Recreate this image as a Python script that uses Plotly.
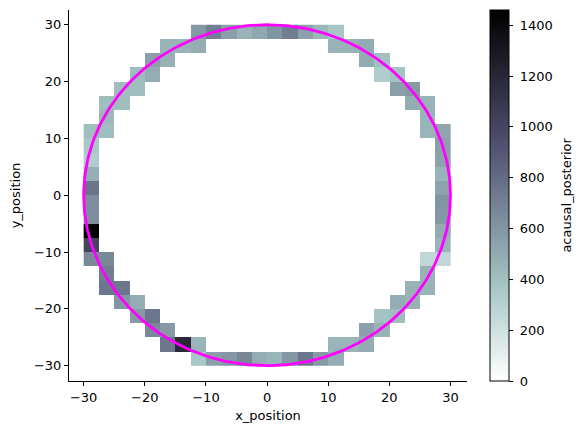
import numpy as np
import plotly.graph_objects as go

# 2D position bins (2.5 cm wide, -30 .. 30)
bin_edges = np.arange(-30, 30.1, 2.5)
bin_centers = (bin_edges[:-1] + bin_edges[1:]) / 2

# occupied bins on the ring: column index, row index, posterior value
ring_col = [7, 8, 9, 10, 11, 12, 13, 14, 15, 16,
            5, 6, 7, 16, 17, 18,
            4, 5, 18, 19,
            3, 4, 19, 20,
            2, 3, 20, 21,
            1, 2, 21, 22,
            1, 22,
            0, 1, 22, 23,
            0, 23, 0, 23, 0, 23, 0, 23, 0, 23, 0, 23, 0, 23, 0, 23,
            0, 1, 22, 23,
            1, 22,
            1, 2, 21, 22,
            2, 3, 20, 21,
            3, 4, 19, 20,
            4, 5, 18, 19,
            5, 6, 7, 16, 17, 18,
            7, 8, 9, 10, 11, 12, 13, 14, 15, 16]
ring_row = [23] * 10 + [22] * 6 + [21] * 4 + [20] * 4 + [19] * 4 + [18] * 4 + [17] * 2 + [16] * 4 + \
           [15, 15, 14, 14, 13, 13, 12, 12, 11, 11, 10, 10, 9, 9, 8, 8] + \
           [7] * 4 + [6] * 2 + [5] * 4 + [4] * 4 + [3] * 4 + [2] * 4 + [1] * 6 + [0] * 10
ring_value = [590, 710, 555, 455, 520, 610, 717, 550, 445, 365,
              455, 455, 490, 463, 460, 495,
              550, 470, 495, 400,
              417, 490, 330, 385,
              417, 410, 555, 580,
              410, 410, 490, 463,
              437, 450,
              410, 410, 450, 521,
              362, 555, 330, 541, 480, 455, 765, 541, 640, 606, 640, 593, 1460, 495, 1010, 450,
              660, 660, 263, 263,
              711, 463,
              750, 750, 463, 463,
              600, 489, 489, 463,
              580, 750, 384, 410,
              659, 580, 550, 463,
              750, 1200, 450, 450, 450, 495,
              362, 555, 593, 672, 489, 450, 593, 750, 580, 489]

cbar_ticks = [0, 200, 400, 600, 800, 1000, 1200, 1400]

# linear track (circle)
track_radius = 30
track_angle = np.linspace(0, 2 * np.pi, 361)

z = np.full((len(bin_centers), len(bin_centers)), np.nan)
for c, r, v in zip(ring_col, ring_row, ring_value):
    z[r, c] = v
z_list = [[None if np.isnan(v) else v for v in row] for row in z]

# matplotlib bone_r
bone_r = [
    [0.0, "rgb(255,255,255)"],
    [0.253968, "rgb(166,198,198)"],
    [0.634921, "rgb(81,81,113)"],
    [1.0, "rgb(0,0,0)"],
]

font = dict(family="DejaVu Sans", size=13, color="black")

fig = go.Figure()
fig.add_trace(go.Heatmap(
    x=bin_centers,
    y=bin_centers,
    z=z_list,
    zmin=0,
    zmax=1460,
    colorscale=bone_r,
    hoverongaps=False,
    colorbar=dict(
        thickness=19,
        len=1,
        lenmode="fraction",
        y=0.5,
        yanchor="middle",
        x=1.058,
        xanchor="left",
        xpad=0,
        ypad=0,
        outlinewidth=1,
        outlinecolor="black",
        tickvals=cbar_ticks,
        ticktext=[f" {t}" for t in cbar_ticks],
        ticks="outside",
        ticklen=4,
        tickcolor="black",
        tickfont=font,
    ),
))
fig.add_trace(go.Scatter(
    x=track_radius * np.cos(track_angle),
    y=track_radius * np.sin(track_angle),
    mode="lines",
    line=dict(color="#ff00ff", width=2.8),
    showlegend=False,
    hoverinfo="skip",
))

# colorbar label, placed like matplotlib's
fig.add_annotation(
    text="acausal_posterior",
    xref="paper", yref="paper",
    x=1.249, y=0.5,
    xanchor="center", yanchor="middle",
    textangle=-90,
    showarrow=False,
    font=font,
)

# the page body adds an 8px margin, so the figure is 8px smaller
fig.update_layout(
    width=575,
    height=425,
    margin=dict(l=61, r=116, t=2, b=52, autoexpand=False),
    paper_bgcolor="white",
    plot_bgcolor="white",
    font=font,
    showlegend=False,
)
axis_style = dict(
    showgrid=False,
    zeroline=False,
    showline=True,
    linecolor="black",
    linewidth=1,
    ticks="outside",
    ticklen=4,
    tickcolor="black",
    tickvals=[-30, -20, -10, 0, 10, 20, 30],
    tickfont=font,
    automargin=False,
)
fig.update_xaxes(range=[-32.4, 32.7], title=dict(text="x_position", font=font, standoff=7), **axis_style)
fig.update_yaxes(range=[-32.7, 32.6], title=dict(text="y_position", font=font, standoff=10), **axis_style)

fig.write_html("out.html")
